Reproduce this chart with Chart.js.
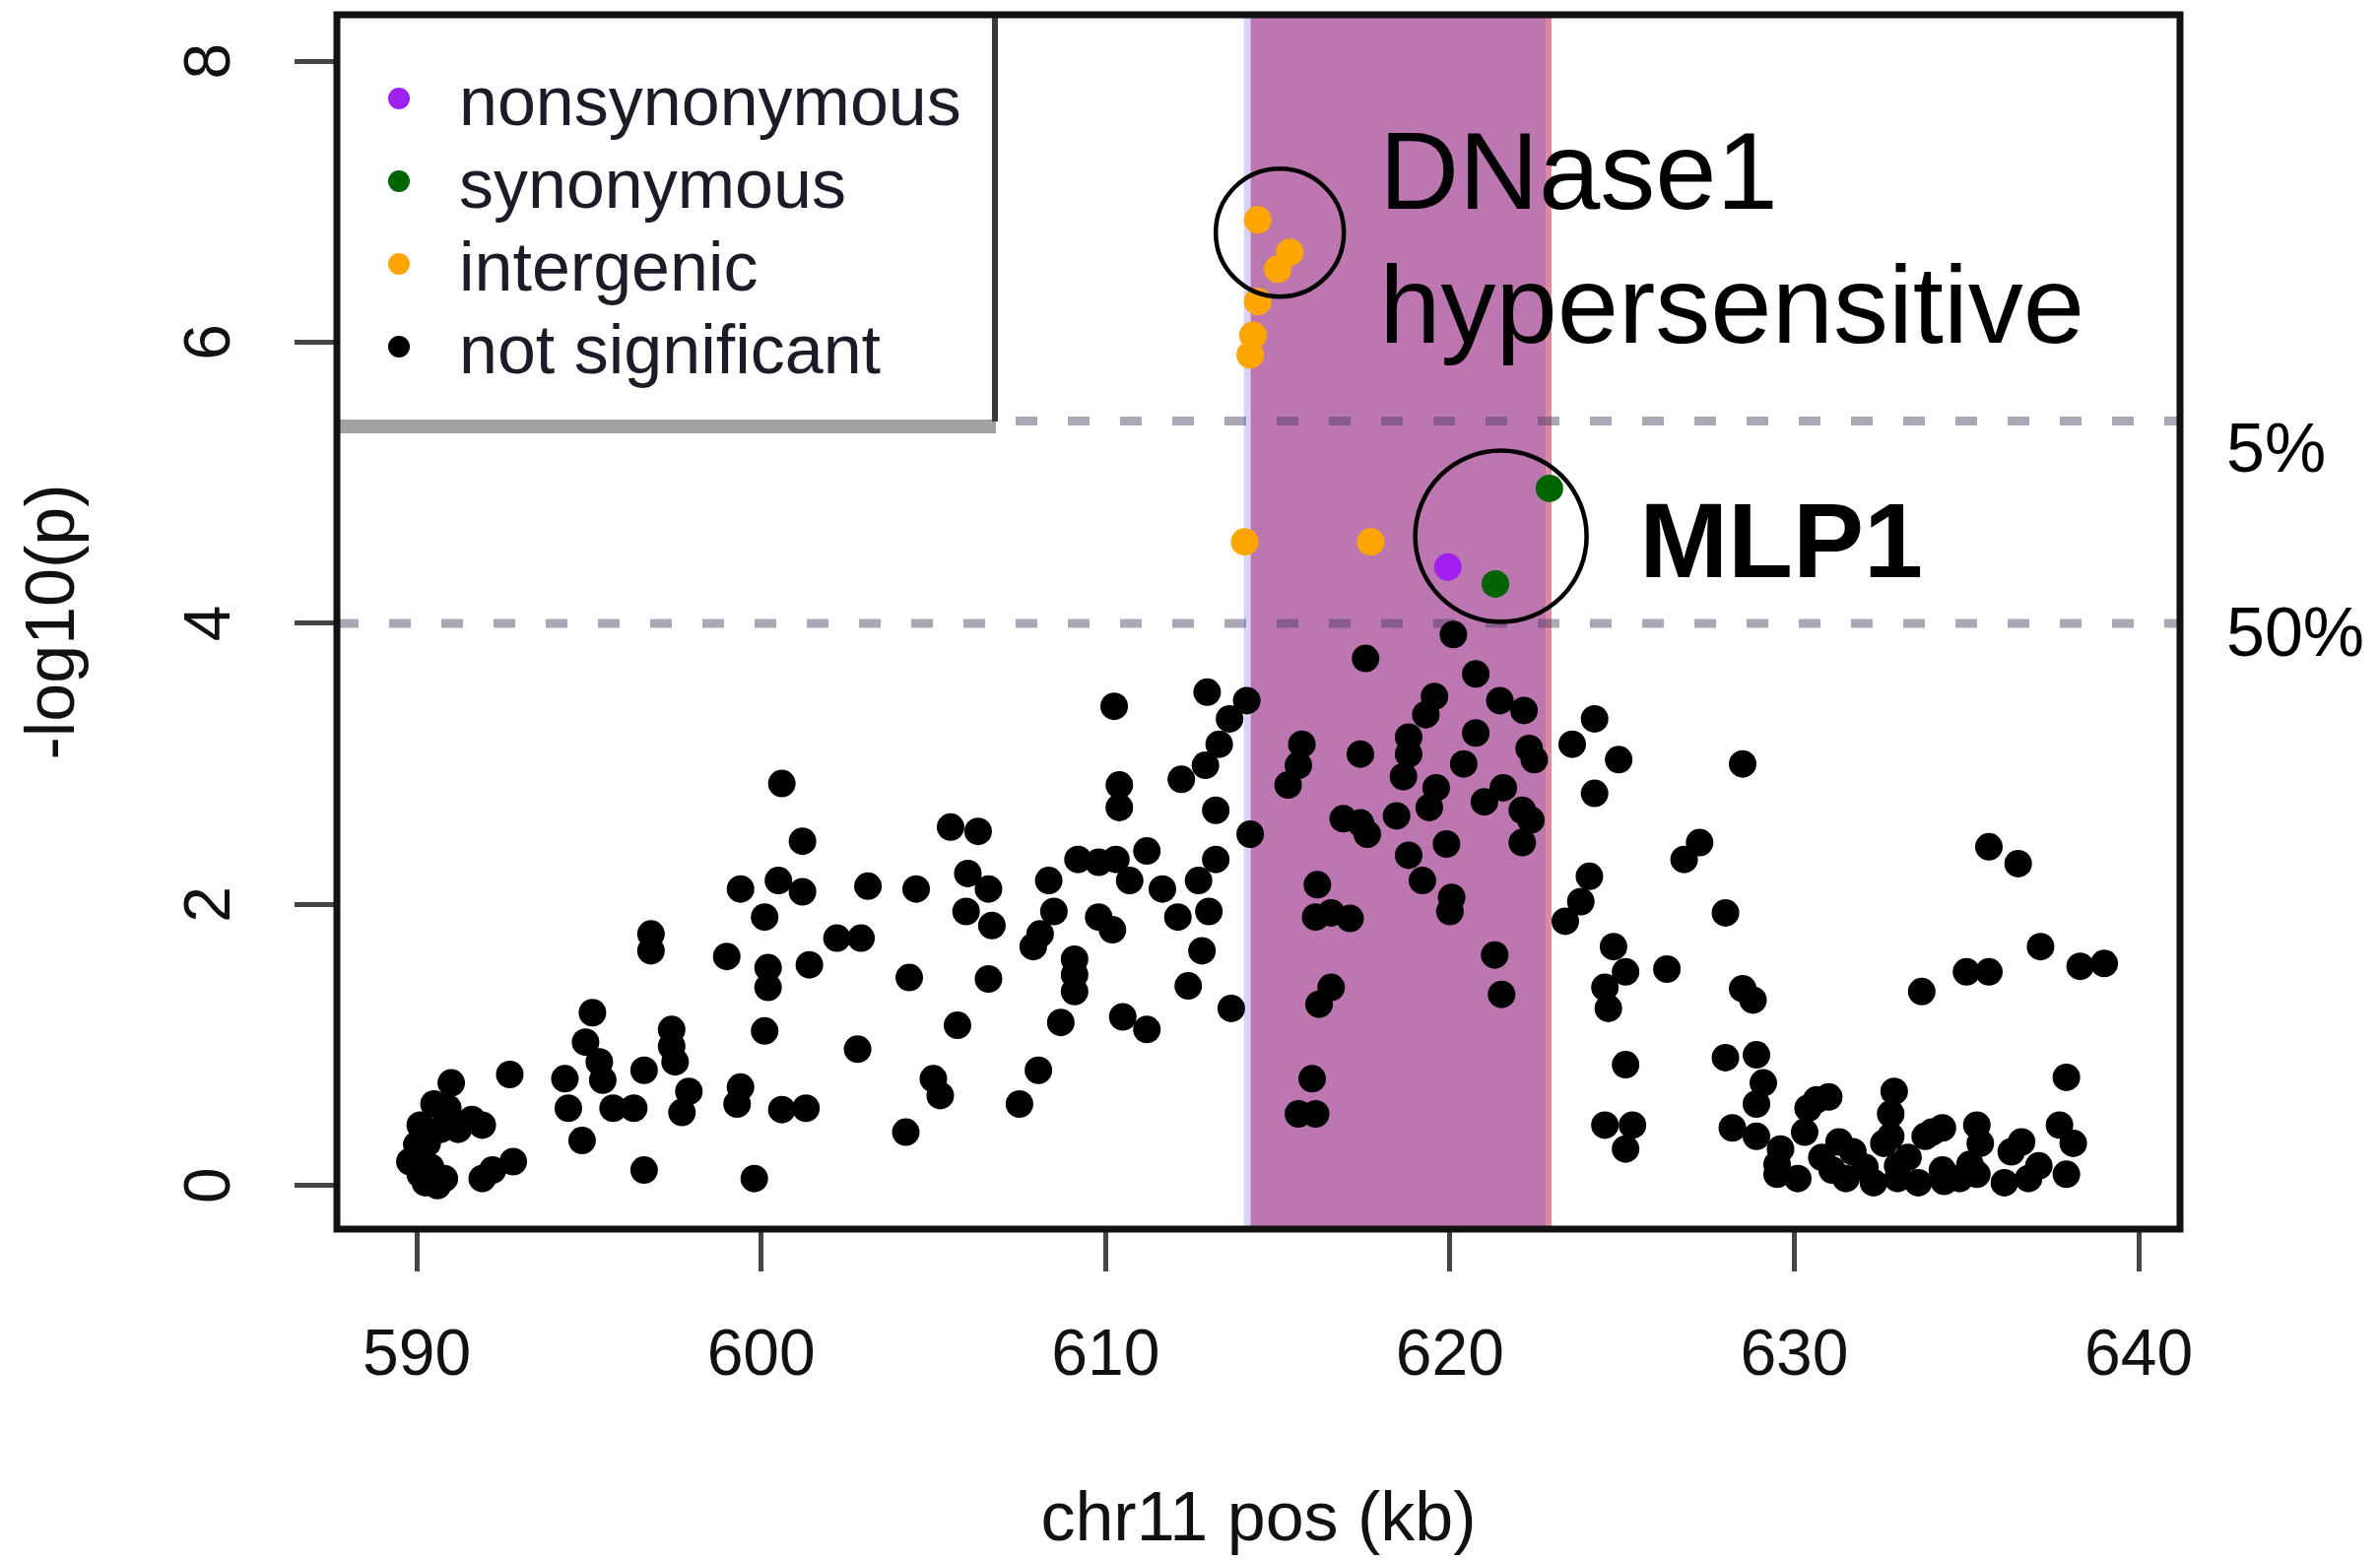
<!DOCTYPE html>
<html>
<head>
<meta charset="utf-8">
<script src="https://cdn.jsdelivr.net/npm/chart.js@4.4.0/dist/chart.umd.min.js"></script>
<style>
  html, body { margin: 0; padding: 0; background: #fff; }
  canvas { display: block; }
</style>
</head>
<body>
<canvas id="chart" width="2416" height="1584"></canvas>
<script>
// chr11 position (kb) and -log10(p) for every SNP, one array pair per class
var notSigPos = [
  600.6, 601.2, 605.5, 599.4, 600.5, 601.2, 603.1, 604.5, 600.1, 596.8,
  596.8, 599.0, 600.2, 600.2, 601.4, 602.2, 602.9, 604.3, 605.7, 600.1,
  602.8, 595.1, 594.9, 595.3, 597.4, 597.4, 597.5, 596.6, 592.7, 594.3,
  595.4, 594.4, 595.7, 596.3, 594.8, 597.9, 597.7, 599.4, 599.3, 600.6,
  601.3, 605.0, 605.2, 604.2, 596.6, 599.8, 591.0, 590.5, 590.9, 590.1,
  591.2, 591.9, 590.0, 589.8, 590.4, 590.25, 590.8, 591.9, 592.2, 592.8,
  590.7, 590.3, 591.6, 590.6, 590.1,
  620.1, 617.55, 620.75, 619.55, 621.45, 622.15, 619.3, 620.75, 618.8, 618.8,
  617.4, 622.3, 622.45, 620.4, 618.65, 619.6, 621.55, 621.0, 619.4, 622.1,
  622.35, 618.45, 616.9, 617.6, 622.1, 619.9, 618.8, 619.2, 620.05, 620.0,
  615.7, 615.6, 615.3, 616.15, 616.55, 616.1, 617.1, 621.3, 621.5, 616.55,
  616.2, 616.0, 615.6, 616.1, 612.95, 614.1, 613.6, 610.25, 613.3, 612.9,
  612.2, 610.4, 610.4, 613.2, 614.2, 606.3, 611.2, 609.2, 610.3, 609.8,
  613.2, 606.0, 608.35, 610.7, 611.65, 612.7, 606.6, 605.95, 606.7, 608.5,
  608.1, 607.9, 609.8, 610.2, 612.1, 613.0, 609.1, 609.1, 609.1, 612.8,
  606.6, 612.4, 613.65, 608.7, 610.5, 611.2, 608.05, 607.5, 617.4,
  624.2, 623.55, 624.9, 624.2, 628.5, 627.25, 626.8, 624.05, 623.8, 623.35,
  628.0, 624.75, 625.1, 626.3, 624.5, 624.6, 628.5, 628.8, 635.65, 636.5,
  637.15, 635.0, 635.65, 638.3, 639.0, 633.7, 625.1, 628.0, 628.9, 629.1,
  628.9, 637.9, 624.5, 625.3, 625.1, 628.2, 628.9, 629.6, 629.5, 630.3,
  630.65, 631.1, 631.7, 632.3, 632.9, 632.8, 632.8, 633.0, 633.6, 633.8,
  634.3, 634.3, 635.3, 635.4, 635.3, 636.3, 636.8, 637.7, 638.1, 637.9,
  637.1, 634.8, 631.5, 630.1, 629.5, 631.0, 630.4, 631.3, 632.05, 632.6,
  634.0, 635.1, 636.1, 636.6, 634.35, 633.3, 630.8, 633.0
];
var notSigLogP = [
  2.86, 2.45, 2.55, 2.11, 2.17, 2.09, 2.13, 2.11, 1.91, 1.79,
  1.67, 1.63, 1.55, 1.41, 1.57, 1.76, 1.76, 1.48, 1.14, 1.10,
  0.97, 1.23, 1.02, 0.88, 1.11, 0.99, 0.88, 0.82, 0.79, 0.76,
  0.75, 0.55, 0.55, 0.55, 0.32, 0.67, 0.52, 0.70, 0.58, 0.54,
  0.55, 0.76, 0.64, 0.38, 0.11, 0.05, 0.73, 0.58, 0.55, 0.43,
  0.40, 0.43, 0.29, 0.17, 0.13, 0.02, 0.05, 0.05, 0.11, 0.17,
  0.40, 0.30, 0.47, 0.0, 0.08,
  3.92, 3.75, 3.64, 3.48, 3.45, 3.38, 3.35, 3.22, 3.19, 3.07,
  3.07, 3.11, 3.03, 3.0, 2.91, 2.83, 2.83, 2.73, 2.69, 2.67,
  2.6, 2.63, 2.61, 2.5, 2.44, 2.43, 2.35, 2.17, 2.05, 1.95,
  3.14, 2.99, 2.85, 2.14, 1.94, 1.91, 1.9, 1.64, 1.36, 1.41,
  1.29, 0.76, 0.51, 0.51, 3.51, 3.45, 3.32, 3.41, 3.14, 2.99,
  2.89, 2.85, 2.69, 2.67, 2.5, 2.52, 2.38, 2.32, 2.32, 2.3,
  2.32, 2.22, 2.17, 2.17, 2.11, 2.17, 2.11, 1.95, 1.85, 1.95,
  1.79, 1.7, 1.91, 1.82, 1.91, 1.95, 1.61, 1.5, 1.38, 1.67,
  1.47, 1.42, 1.26, 1.16, 1.2, 1.11, 0.82, 0.58, 2.58,
  3.32, 3.14, 3.03, 2.79, 3.0, 2.44, 2.32, 2.2, 2.02, 1.88,
  1.94, 1.7, 1.52, 1.54, 1.41, 1.26, 1.4, 1.32, 2.41, 2.29,
  1.7, 1.52, 1.52, 1.56, 1.58, 1.38, 0.86, 0.91, 0.93, 0.73,
  0.58, 0.77, 0.43, 0.43, 0.26, 0.41, 0.35, 0.26, 0.08, 0.38,
  0.61, 0.11, 0.24, 0.02, 0.67, 0.51, 0.35, 0.14, 0.02, 0.35,
  0.41, 0.11, 0.43, 0.3, 0.08, 0.24, 0.05, 0.43, 0.3, 0.08,
  0.14, 0.05, 0.05, 0.05, 0.15, 0.63, 0.55, 0.31, 0.13, 0.3,
  0.38, 0.15, 0.02, 0.31, 0.03, 0.2, 0.2, 0.05
];
var intergenicPos  = [614.42, 615.35, 615.0, 614.42, 614.28, 614.2, 614.04, 617.7];
var intergenicLogP = [6.87, 6.64, 6.52, 6.29, 6.05, 5.91, 4.58, 4.58];
var synonymousPos  = [622.89, 621.32];
var synonymousLogP = [4.96, 4.28];
var nonsynPos  = [619.94];
var nonsynLogP = [4.40];

var xTickValues = [590, 600, 610, 620, 630, 640];
var yTickValues = [0, 2, 4, 6, 8];
var dnaseBand = [614.1, 622.95];          // kb
var thresholdLevels = [5.44, 4.0];        // genome-wide cutoffs
var thresholdLabels = ['5%', '50%'];

var FONT = '"Liberation Sans", Arial, sans-serif';
Chart.defaults.font.family = FONT;

function toPoints(pos, lp) {
  return pos.map(function(p, i) { return { x: p, y: lp[i] }; });
}

var bandPlugin = {
  id: 'band',
  beforeDatasetsDraw: function(chart) {
    var ctx = chart.ctx, a = chart.chartArea;
    var xs = chart.scales.x, ys = chart.scales.y;
    var l = xs.getPixelForValue(dnaseBand[0]), r = xs.getPixelForValue(dnaseBand[1]);
    ctx.save();
    ctx.fillStyle = '#bd77b0';
    ctx.fillRect(l, a.top, r - l, a.bottom - a.top);
    ctx.fillStyle = '#d6d4fa';
    ctx.fillRect(l - 3, a.top, 7, a.bottom - a.top);
    ctx.fillStyle = '#de8a9b';
    ctx.fillRect(r - 6, a.top, 6, a.bottom - a.top);
    // threshold lines
    ctx.setLineDash([22, 31]);
    ctx.lineWidth = 9;
    ctx.strokeStyle = 'rgba(70,60,95,0.45)';
    thresholdLevels.forEach(function(v) {
      var y = ys.getPixelForValue(v);
      ctx.beginPath();
      ctx.moveTo(a.left, y);
      ctx.lineTo(a.right, y);
      ctx.stroke();
    });
    ctx.restore();
  }
};

var overlayPlugin = {
  id: 'overlay',
  afterDatasetsDraw: function(chart) {
    var ctx = chart.ctx, a = chart.chartArea;
    var xs = chart.scales.x, ys = chart.scales.y;
    ctx.save();

    // legend box in the top-left corner
    ctx.fillStyle = '#fff';
    ctx.fillRect(a.left, a.top, 1011 - a.left, 433 - a.top);
    ctx.fillStyle = '#a2a2a2';
    ctx.fillRect(a.left, 426, 1011 - a.left, 14);
    ctx.fillStyle = '#3a3a3a';
    ctx.fillRect(1007, a.top, 6, 428 - a.top);
    ctx.textAlign = 'left';
    ctx.textBaseline = 'alphabetic';
    ctx.font = '70px ' + FONT;
    chart.data.datasets.forEach(function(ds, i) {
      var y = 100 + i * 84;
      ctx.fillStyle = ds.backgroundColor;
      ctx.beginPath();
      ctx.arc(405, y, 11, 0, Math.PI * 2);
      ctx.fill();
      ctx.fillStyle = '#1c1c28';
      ctx.fillText(ds.label, 466, y + 27);
    });

    // plot frame
    ctx.strokeStyle = '#111';
    ctx.lineWidth = 7;
    ctx.strokeRect(a.left, a.top, a.right - a.left, a.bottom - a.top);

    // callout circles
    ctx.lineWidth = 4.5;
    ctx.strokeStyle = '#000';
    [[615.06, 6.78, 65], [621.48, 4.62, 87]].forEach(function(c) {
      ctx.beginPath();
      ctx.arc(xs.getPixelForValue(c[0]), ys.getPixelForValue(c[1]), c[2], 0, Math.PI * 2);
      ctx.stroke();
    });

    ctx.fillStyle = '#000';
    ctx.font = '112px ' + FONT;
    ctx.fillText('DNase1', xs.getPixelForValue(617.95), ys.getPixelForValue(6.95));
    ctx.fillText('hypersensitive', xs.getPixelForValue(617.95), ys.getPixelForValue(6.0));
    ctx.font = 'bold 108px ' + FONT;
    ctx.fillText('MLP1', xs.getPixelForValue(625.5), ys.getPixelForValue(4.33));

    ctx.font = '70px ' + FONT;
    thresholdLevels.forEach(function(v, i) {
      ctx.fillText(thresholdLabels[i], a.right + 47, ys.getPixelForValue(v) + (i === 0 ? 52 : 33));
    });
    ctx.restore();
  }
};

new Chart(document.getElementById('chart'), {
  type: 'scatter',
  data: {
    datasets: [
      { label: 'nonsynonymous', data: toPoints(nonsynPos, nonsynLogP), backgroundColor: '#a020f0' },
      { label: 'synonymous', data: toPoints(synonymousPos, synonymousLogP), backgroundColor: '#006400' },
      { label: 'intergenic', data: toPoints(intergenicPos, intergenicLogP), backgroundColor: '#ffa500' },
      { label: 'not significant', data: toPoints(notSigPos, notSigLogP), backgroundColor: '#000000' }
    ]
  },
  options: {
    responsive: false,
    animation: false,
    devicePixelRatio: 1,
    layout: { padding: { left: 0, top: 15, right: 203, bottom: 0 } },
    elements: { point: { radius: 14, hoverRadius: 14, borderWidth: 0 } },
    plugins: { legend: { display: false }, tooltip: { enabled: false } },
    scales: {
      x: {
        type: 'linear',
        min: 587.68,
        max: 641.2,
        afterFit: function(s) { s.height = 336; s.paddingLeft = 0; s.paddingRight = 0; },
        afterBuildTicks: function(s) { s.ticks = xTickValues.map(function(v) { return { value: v }; }); },
        grid: { drawOnChartArea: false, tickLength: 43, tickWidth: 5, tickColor: '#444' },
        border: { display: false },
        ticks: { font: { size: 66 }, color: '#111', padding: 47, maxRotation: 0, autoSkip: false,
                 callback: function(v) { return String(v); } },
        title: { display: true, text: 'chr11 pos (kb)', color: '#111',
                 font: { size: 70, lineHeight: 1 }, padding: { top: 0, bottom: 4 } }
      },
      y: {
        type: 'linear',
        min: -0.31,
        max: 8.33,
        afterFit: function(s) { s.width = 342; s.paddingTop = 0; s.paddingBottom = 0; },
        afterBuildTicks: function(s) { s.ticks = yTickValues.map(function(v) { return { value: v }; }); },
        grid: { drawOnChartArea: false, tickLength: 43, tickWidth: 5, tickColor: '#444' },
        border: { display: false },
        ticks: { font: { size: 66 }, color: '#111', padding: 66, minRotation: 90, maxRotation: 90,
                 crossAlign: 'center', callback: function(v) { return String(v); } },
        title: { display: true, text: '-log10(p)', color: '#111',
                 font: { size: 70, lineHeight: 1 }, padding: { top: 21, bottom: 0 } }
      }
    }
  },
  plugins: [bandPlugin, overlayPlugin]
});
</script>
</body>
</html>
